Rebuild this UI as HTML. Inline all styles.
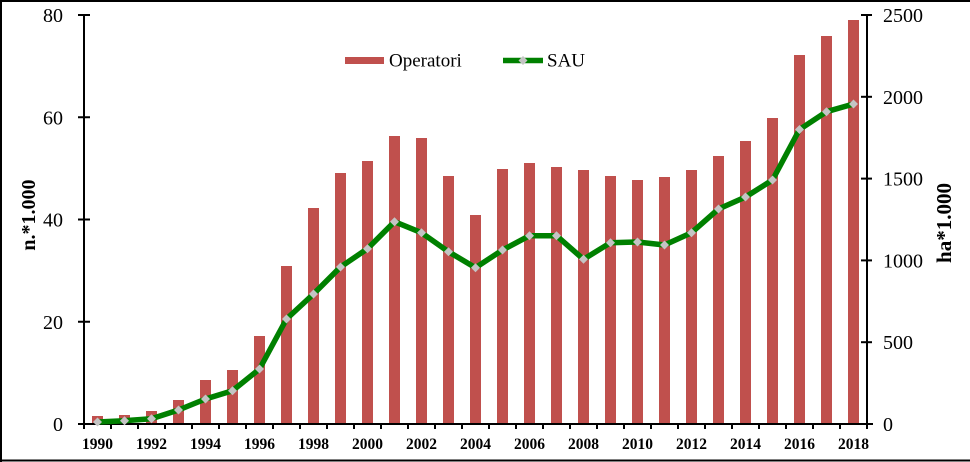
<!DOCTYPE html>
<html><head><meta charset="utf-8"><style>
html,body{margin:0;padding:0;background:#fff;}
svg{display:block;}
text{font-family:"Liberation Serif","Times New Roman",serif;fill:#000;}
</style></head><body>
<svg width="970" height="462" viewBox="0 0 970 462" xmlns="http://www.w3.org/2000/svg">
<rect x="0" y="0" width="970" height="462" fill="#fff"/>
<line x1="0" y1="1" x2="970" y2="1" stroke="#000" stroke-width="2"/>
<line x1="1" y1="0" x2="1" y2="462" stroke="#000" stroke-width="2"/>
<line x1="0" y1="460.5" x2="970" y2="460.5" stroke="#000" stroke-width="2"/>
<g id="bars" fill="#c0504d"></g>
<g id="axes" stroke="#000" stroke-width="2" fill="none"></g>
<polyline id="sau" fill="none" stroke="#008000" stroke-width="5.5" stroke-linejoin="round" points=""/>
<g id="markers" fill="#c4c4c4"></g>
<g id="labels"></g>
<!-- legend -->
<rect x="345" y="57" width="39" height="7" fill="#c0504d"/>
<text x="389" y="66.5" font-size="19">Operatori</text>
<line x1="503" y1="60.5" x2="543" y2="60.5" stroke="#008000" stroke-width="5.5"/>
<polygon points="523,56 527.5,60.5 523,65 518.5,60.5" fill="#c4c4c4"/>
<text x="547" y="66.5" font-size="19">SAU</text>
<text transform="translate(35,215) rotate(-90)" text-anchor="middle" font-size="20" font-weight="bold">n.*1.000</text>
<text transform="translate(951,223) rotate(-90)" text-anchor="middle" font-size="21" font-weight="bold">ha*1.000</text>
<script>
(function(){
var ns="http://www.w3.org/2000/svg";
function el(t,a,p,txt){var e=document.createElementNS(ns,t);for(var k in a)e.setAttribute(k,a[k]);if(txt!==undefined)e.textContent=txt;p.appendChild(e);return e;}
var bars=[416,415,411,400,380,370,336,266,208,173,161,136,138,176,215,169,163,167,170,176,180,177,170,156,141,118,55,36,20];
var mk=[422,420.7,418.7,410,399,390.7,369,319,294,267,248.7,221.7,232.7,251.7,267.7,250,235.7,235.7,259.3,242.7,242,245,232.7,209,197,180,129.5,111.7,104];
var gb=document.getElementById("bars"),ga=document.getElementById("axes"),gm=document.getElementById("markers"),gl=document.getElementById("labels");
var pts=[];
for(var i=0;i<29;i++){
 var cx=84+(i+0.5)*27;
 el("rect",{x:cx-5.5,y:bars[i],width:11,height:424-bars[i]},gb);
 pts.push(cx+","+mk[i]);
 el("polygon",{points:cx+","+(mk[i]-4.5)+" "+(cx+4.5)+","+mk[i]+" "+cx+","+(mk[i]+4.5)+" "+(cx-4.5)+","+mk[i]},gm);
 if(i%2==0) el("text",{x:cx,y:449,"text-anchor":"middle","font-size":"15.5","font-weight":"bold"},gl,String(1990+i));
}
document.getElementById("sau").setAttribute("points",pts.join(" "));
// axes
el("line",{x1:84,y1:14,x2:84,y2:425},ga);
el("line",{x1:867,y1:14,x2:867,y2:425},ga);
el("line",{x1:78,y1:424,x2:873,y2:424},ga);
for(var j=0;j<=29;j++){var x=84+j*27;el("line",{x1:x,y1:424,x2:x,y2:429},ga);}
var lv=[0,20,40,60,80];
for(var k=0;k<5;k++){var y=424-k*102.25;
 el("line",{x1:78,y1:y,x2:90,y2:y},ga);
 el("text",{x:63,y:y+7,"text-anchor":"end","font-size":"20"},gl,String(lv[k]));}
var rv=[0,500,1000,1500,2000,2500];
for(var k=0;k<6;k++){var y=424-k*81.8;
 el("line",{x1:861,y1:y,x2:872,y2:y},ga);
 el("text",{x:883,y:y+7,"font-size":"20"},gl,String(rv[k]));}
})();
</script>
</svg>
</body></html>
